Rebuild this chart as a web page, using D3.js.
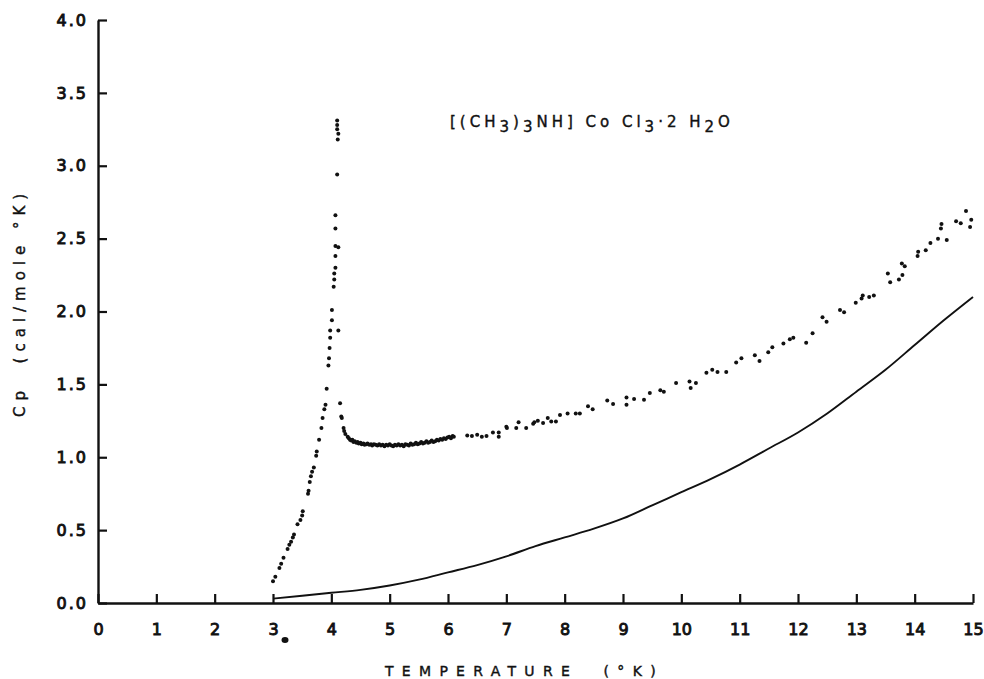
<!DOCTYPE html>
<html>
<head>
<meta charset="utf-8">
<script src="https://d3js.org/d3.v7.min.js"></script>
<style>
  body { margin: 0; background: #fff; }
  text { font-family: "DejaVu Sans", sans-serif; fill: #111; }
</style>
</head>
<body>
<div class="chart"></div>
<script>
"use strict";

// temperature ticks (K) and Cp ticks (cal/mole K)
var xTicks = d3.range(0, 16);
var yTicks = [0, 0.5, 1.0, 1.5, 2.0, 2.5, 3.0, 3.5, 4.0];

// measured points [T, Cp], rising branch up to the lambda peak
var rising = [
  [3.00,0.15],[3.04,0.18],[3.11,0.24],[3.14,0.27],[3.18,0.31],[3.25,0.37],
  [3.28,0.40],[3.31,0.42],[3.34,0.45],[3.36,0.47],[3.42,0.54],[3.47,0.57],
  [3.50,0.60],[3.51,0.63],[3.60,0.75],[3.61,0.77],[3.63,0.83],[3.65,0.87],
  [3.67,0.90],[3.70,0.93],[3.74,1.01],[3.75,1.04],[3.79,1.12],[3.83,1.20],
  [3.85,1.27],[3.88,1.33],[3.90,1.36],[3.92,1.47],[3.95,1.63],[3.96,1.68],
  [3.97,1.75],[3.98,1.82],[3.98,1.87],[4.01,1.94],[4.01,2.01],[4.04,2.17],
  [4.05,2.22],[4.05,2.26],[4.07,2.30],[4.07,2.38],[4.07,2.45],[4.07,2.57],
  [4.07,2.66],[4.10,2.94],[4.11,3.18],[4.12,3.22],[4.10,3.25],[4.10,3.28],
  [4.10,3.31]
];

// just above the peak and the dense band around the minimum
var falling = [
  [4.12,2.44],[4.12,1.87],[4.15,1.37],[4.17,1.28],[4.18,1.27],[4.21,1.20],
  [4.22,1.18],[4.24,1.16],[4.28,1.14],
  [4.30,1.13],[4.32,1.12],[4.34,1.115],[4.36,1.12],[4.38,1.105],[4.40,1.11],
  [4.43,1.10],[4.45,1.105],[4.47,1.095],[4.50,1.10],[4.52,1.09],[4.55,1.095],
  [4.57,1.085],[4.60,1.09],[4.62,1.095],[4.65,1.085],[4.68,1.09],[4.70,1.08],
  [4.73,1.09],[4.76,1.085],[4.79,1.08],[4.82,1.09],[4.85,1.08],[4.88,1.085],
  [4.91,1.075],[4.94,1.085],[4.97,1.08],[5.00,1.09],[5.03,1.08],[5.06,1.075],
  [5.09,1.085],[5.12,1.08],[5.15,1.09],[5.18,1.08],[5.21,1.085],[5.24,1.075],
  [5.27,1.09],[5.30,1.085],[5.33,1.08],[5.36,1.095],[5.39,1.085],[5.42,1.09],
  [5.45,1.10],[5.48,1.09],[5.51,1.095],[5.54,1.105],[5.57,1.095],[5.60,1.10],
  [5.63,1.11],[5.66,1.10],[5.69,1.105],[5.72,1.115],[5.75,1.105],[5.78,1.11],
  [5.81,1.12],[5.84,1.115],[5.87,1.125],[5.90,1.12],[5.93,1.13],[5.96,1.125],
  [5.99,1.135],[6.02,1.14],[6.05,1.13],[6.08,1.145]
];

// sparser points above 6 K
var high = [
  [6.10,1.14],[6.33,1.15],[6.41,1.146],[6.50,1.155],[6.58,1.14],[6.66,1.146],
  [6.77,1.17],[6.87,1.17],[6.87,1.14],[7.00,1.21],[7.01,1.20],[7.17,1.20],
  [7.21,1.24],[7.34,1.20],[7.46,1.23],[7.48,1.24],[7.54,1.25],[7.63,1.235],
  [7.71,1.27],[7.77,1.245],[7.85,1.245],[7.92,1.29],[8.05,1.30],[8.19,1.30],
  [8.26,1.30],[8.40,1.35],[8.48,1.33],[8.73,1.39],[8.83,1.365],[9.06,1.41],
  [9.06,1.36],[9.19,1.40],[9.36,1.395],[9.46,1.44],[9.64,1.46],[9.70,1.45],
  [9.91,1.51],[10.14,1.52],[10.16,1.475],[10.25,1.51],[10.43,1.58],
  [10.53,1.60],[10.62,1.585],[10.77,1.585],[10.94,1.65],[11.03,1.68],
  [11.26,1.70],[11.34,1.66],[11.49,1.72],[11.56,1.755],[11.75,1.78],
  [11.86,1.81],[11.92,1.82],[12.14,1.785],[12.25,1.85],[12.42,1.96],
  [12.49,1.93],[12.72,2.01],[12.79,1.995],[12.99,2.06],[13.09,2.09],
  [13.11,2.11],[13.22,2.10],[13.30,2.11],[13.54,2.26],[13.58,2.20],
  [13.73,2.22],[13.79,2.25],[13.78,2.33],[13.83,2.31],[14.05,2.38],
  [14.06,2.41],[14.19,2.42],[14.27,2.47],[14.40,2.50],[14.45,2.57],
  [14.46,2.60],[14.55,2.49],[14.71,2.62],[14.79,2.605],[14.88,2.69],
  [14.97,2.63],[14.95,2.58]
];

// lattice contribution, solid curve
var lattice = [
  [3,0.03],[3.5,0.05],[4,0.07],[4.5,0.09],[5,0.12],[5.5,0.16],[6,0.21],
  [6.5,0.26],[7,0.32],[7.5,0.39],[8,0.45],[8.5,0.51],[9,0.58],[9.5,0.67],
  [10,0.76],[10.5,0.85],[11,0.95],[11.5,1.06],[12,1.17],[12.5,1.30],
  [13,1.45],[13.5,1.60],[14,1.77],[14.5,1.94],[15,2.10]
];

var width = 984,
    height = 679;

var svg = d3.select(".chart")
          .append("svg")
          .attr("width", width)
          .attr("height", height);

var x = d3.scaleLinear().domain([0, 15]).range([98, 973]);
var y = d3.scaleLinear().domain([0, 4]).range([603, 20]);

// axes, ticks point inward like the original
var xAxis = svg.append("g")
      .attr("transform", "translate(0," + y(0) + ")")
      .call(d3.axisBottom(x)
          .tickValues(xTicks)
          .tickFormat(d3.format("d"))
          .tickSizeInner(-9)
          .tickSizeOuter(0)
          .tickPadding(21));

var yAxis = svg.append("g")
      .attr("transform", "translate(" + x(0) + ",0)")
      .call(d3.axisLeft(y)
          .tickValues(yTicks)
          .tickFormat(d3.format(".1f"))
          .tickSizeInner(-9)
          .tickSizeOuter(0)
          .tickPadding(10));

svg.selectAll(".domain").style("stroke", "#111").style("stroke-width", 2.4);
svg.selectAll(".tick line").style("stroke", "#111").style("stroke-width", 2.2);

xAxis.selectAll(".tick text")
      .style("font-size", "16px")
      .style("stroke", "#111")
      .style("stroke-width", "0.9");

yAxis.selectAll(".tick text")
      .style("font-size", "16px")
      .style("letter-spacing", "2px")
      .style("stroke", "#111")
      .style("stroke-width", "0.9");

// little ink blot under the "3"
svg.append("ellipse")
      .attr("cx", x(3) + 12)
      .attr("cy", y(0) + 37)
      .attr("rx", 3.5)
      .attr("ry", 3)
      .attr("fill", "#111");

// lattice curve
svg.append("path")
      .datum(lattice)
      .attr("fill", "none")
      .attr("stroke", "#111")
      .attr("stroke-width", 1.9)
      .attr("d", d3.line()
          .x(function(d){ return x(d[0]); })
          .y(function(d){ return y(d[1]); })
          .curve(d3.curveMonotoneX));

// measured points
var points = rising.concat(falling, high);

svg.append("g")
      .selectAll("circle")
      .data(points)
      .enter().append("circle")
          .attr("cx", function(d){ return x(d[0]); })
          .attr("cy", function(d){ return y(d[1]); })
          .attr("r", 2)
          .attr("fill", "#111");

// formula label, subscripts dropped with dy
var title = svg.append("text")
      .attr("x", 450)
      .attr("y", 127)
      .style("font-size", "15px")
      .style("letter-spacing", "4px")
      .style("white-space", "pre")
      .style("stroke", "#111")
      .style("stroke-width", "0.4");

var parts = [["[(CH", 0], ["3", 1], [")", 0], ["3", 1], ["NH] Co Cl", 0],
             ["3", 1], ["·2 H", 0], ["2", 1], ["O", 0]];
var prev = 0;
parts.forEach(function(p){
  title.append("tspan")
      .attr("dy", (p[1] - prev) * 5)
      .text(p[0]);
  prev = p[1];
});

// axis titles
svg.append("text")
      .attr("x", 385)
      .attr("y", 676)
      .style("font-size", "14px")
      .style("letter-spacing", "8.3px")
      .style("white-space", "pre")
      .style("stroke", "#111")
      .style("stroke-width", "0.4")
      .text("TEMPERATURE  (°K)");

svg.append("text")
      .attr("transform", "translate(25,417) rotate(-90)")
      .style("font-size", "15px")
      .style("letter-spacing", "6px")
      .style("white-space", "pre")
      .style("stroke", "#111")
      .style("stroke-width", "0.4")
      .text("Cp  (cal/mole °K)");

</script>
</body>
</html>
